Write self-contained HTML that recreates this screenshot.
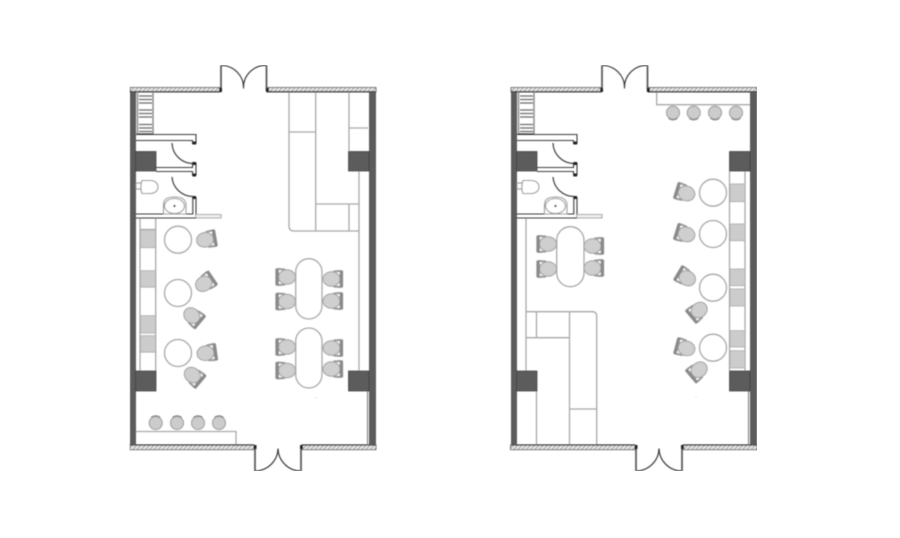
<!DOCTYPE html>
<html><head><meta charset="utf-8"><style>
html,body{margin:0;padding:0;background:#fff;width:900px;height:538px;overflow:hidden}
svg{display:block}
</style></head><body>
<svg width="900" height="538" viewBox="0 0 900 538" xmlns="http://www.w3.org/2000/svg">
<defs>
<pattern id="h" width="3" height="3" patternUnits="userSpaceOnUse" patternTransform="rotate(45)">
<rect width="3" height="3" fill="#eee"/><rect width="1.2" height="3" fill="#aaa"/>
</pattern>
<filter id="b" x="0" y="0" width="100%" height="100%"><feGaussianBlur stdDeviation="0.4"/></filter>
<g id="chair">
<path d="M1-7.500L7-8M1 7.500L7 8" fill="none" stroke="#9a9a9a" stroke-width="2" stroke-linecap="round"/>
<path d="M6.500-4.500L6.500 4.500" fill="none" stroke="#aaa" stroke-width="2"/>
<ellipse cx="-1.500" cy="0" rx="8.500" ry="7.300" fill="#cfcfcf" stroke="#a2a2a2" stroke-width="1"/>
<rect x="6.800" y="-8.800" width="3.300" height="17.600" rx="1.500" fill="#8a8a8a"/>
</g>
<g id="stoolT"><circle r="6.500" fill="#ccc" stroke="#a0a0a0" stroke-width="1.100"/><path d="M-4.500-5.500A7 7 0 0 1 4.500-5.500" fill="none" stroke="#888" stroke-width="1.200"/></g>
<g id="stoolB"><circle r="6.500" fill="#ccc" stroke="#a0a0a0" stroke-width="1.100"/><path d="M-4.500 5.500A7 7 0 0 0 4.500 5.500" fill="none" stroke="#888" stroke-width="1.200"/></g>
<g id="shell">
<!-- walls -->
<rect x="130" y="87.500" width="90" height="4.500" fill="url(#h)" stroke="#666" stroke-width=".9"/>
<rect x="267" y="87.500" width="109" height="4.500" fill="url(#h)" stroke="#666" stroke-width=".9"/>
<line x1="130" y1="91.700" x2="220" y2="91.700" stroke="#222" stroke-width="1.200"/>
<line x1="267" y1="91.700" x2="376" y2="91.700" stroke="#222" stroke-width="1.200"/>
<rect x="129.500" y="445" width="124.500" height="4.700" fill="url(#h)" stroke="#666" stroke-width=".9"/>
<rect x="302" y="445" width="74" height="4.700" fill="url(#h)" stroke="#666" stroke-width=".9"/>
<line x1="130" y1="445" x2="254" y2="445" stroke="#222" stroke-width="1.200"/>
<line x1="302" y1="445" x2="376" y2="445" stroke="#222" stroke-width="1.200"/>
<rect x="130" y="92" width="6" height="353" fill="#5c5c5c"/>
<rect x="369" y="92" width="7" height="353" fill="#5c5c5c"/>
<line x1="367.500" y1="391" x2="367.500" y2="445" stroke="#777" stroke-width="1"/>
<!-- doors -->
<g fill="none" stroke="#333" stroke-width="1.100">
<path d="M221 65.500A22 22 0 0 1 243.500 88.500A22 22 0 0 1 266.500 65.500"/>
<path d="M255 471A23 23 0 0 0 278 448.500A23 23 0 0 0 301 471"/>
</g>
<g fill="none" stroke="#555" stroke-width="1.700">
<path d="M221 91V65.500M266.500 91V65.500M255 446V471M301 446V471"/>
</g>
<g fill="#222">
<rect x="219" y="88" width="3" height="4"/><rect x="266" y="88" width="3" height="4"/>
<rect x="253.500" y="445" width="3" height="4"/><rect x="300" y="445" width="3" height="4"/>
</g>
<!-- shelf -->
<g fill="none" stroke="#8f8f8f">
<path d="M137.500 92V134M153 92V134" stroke-width="1.500"/>
<path d="M139 96H152M139 99.500H152M139 103H152M139 110H152M139 113.500H152M139 117H152M139 124.500H152M139 128H152M139 131.500H152" stroke="#6a6a6a" stroke-width="1.200"/>
</g>
<line x1="137" y1="134" x2="153" y2="134" stroke="#222" stroke-width="1.200"/>
<!-- restroom walls -->
<g fill="none" stroke="#3c3c3c" stroke-width="1.100">
<path d="M136 134.500H196V143.500H192.500V140.500H136"/>
<path d="M156 167.500H192.500V163H196V175H192.500V171.500H156"/>
<path d="M196 197V218H136M192.800 197V214H136"/>
</g>
<g fill="#222"><rect x="192.500" y="141.500" width="3.500" height="3"/><rect x="192.500" y="162" width="3.500" height="3"/><rect x="192.500" y="173.500" width="3.500" height="3"/><rect x="192.500" y="196" width="3.500" height="3"/></g>
<path d="M196 214.500H221V218H196" fill="#eee" stroke="#aaa" stroke-width="1.100"/>
<g fill="none" stroke="#3c3c3c" stroke-width="1.200">
<path d="M172 143A21 21 0 0 0 192.500 163.500"/>
<path d="M172 177A21 21 0 0 0 192.500 196.500"/>
</g>
<!-- toilet -->
<g fill="#fff" stroke="#999" stroke-width="1.100">
<rect x="136" y="183" width="5" height="6"/>
<path d="M142 180.500H150C155 180.500 158 183.500 158 187C158 190.500 155 193.500 150 193.500H142C140.500 190 140.500 184 142 180.500Z"/>
</g>
<!-- sink -->
<g fill="#fff" stroke="#999" stroke-width="1.100">
<path d="M163.500 214V204Q164 197 174.500 197Q185 197 186 204V214Z"/>
<ellipse cx="174.500" cy="206" rx="10" ry="7.500"/>
</g>
<circle cx="174.500" cy="206" r="1.200" fill="#555"/>
<!-- columns -->
<g fill="#5c5c5c" stroke="#3a3a3a" stroke-width=".7">
<rect x="135.500" y="151.500" width="20.500" height="19.500"/>
<rect x="135.500" y="371" width="20.500" height="20"/>
<rect x="348.500" y="151.500" width="20.500" height="19.500"/>
<rect x="348.500" y="371" width="20.500" height="20"/>
</g>
</g>
</defs>
<rect width="900" height="538" fill="#fff"/>
<g filter="url(#b)">
<!-- LEFT PLAN furniture -->
<g fill="none" stroke="#a8a8a8" stroke-width="1.300">
<path d="M289 92V226Q289 231 294 231H359M315.700 92V231M289 132H315.700M349 92V151M349 128H368M316 204H359M349 204V231M359 171V371"/>
<path d="M140 218V371M155.700 218V371M140 218H155.700M140 229.500H155.700"/>
<path d="M136 431.500H236V445"/>
<rect x="295.700" y="258.700" width="26.300" height="60.300" rx="13.150"/>
<rect x="295.700" y="328" width="26.300" height="60" rx="13.150"/>
<circle cx="178" cy="239.700" r="13.500"/>
<circle cx="178" cy="293" r="13.500"/>
<circle cx="178" cy="353" r="13.500"/>
</g>
<g fill="#ccc" stroke="#aaa" stroke-width=".8">
<rect x="140.500" y="230" width="15" height="17.700"/>
<rect x="140.500" y="270.700" width="15" height="16.500"/>
<rect x="140.500" y="315.700" width="15" height="17.300"/>
<rect x="140.500" y="335.700" width="15" height="16.500"/>
</g>
<use href="#shell"/>
<use href="#chair" transform="translate(206.500 239.500) rotate(-10)"/>
<use href="#chair" transform="translate(205 283) rotate(-34)"/>
<use href="#chair" transform="translate(193 316.500) rotate(40)"/>
<use href="#chair" transform="translate(207 353) rotate(-8)"/>
<use href="#chair" transform="translate(193.500 376) rotate(40)"/>
<use href="#chair" transform="translate(285.500 277) rotate(180)"/>
<use href="#chair" transform="translate(285.500 301.500) rotate(180)"/>
<use href="#chair" transform="translate(333 279)"/>
<use href="#chair" transform="translate(333 301)"/>
<use href="#chair" transform="translate(285.500 347) rotate(180)"/>
<use href="#chair" transform="translate(285.500 370.500) rotate(180)"/>
<use href="#chair" transform="translate(333 348)"/>
<use href="#chair" transform="translate(333 369)"/>
<use href="#stoolT" x="155.700" y="423"/>
<use href="#stoolT" x="177" y="423"/>
<use href="#stoolT" x="198" y="423"/>
<use href="#stoolT" x="219" y="423"/>
<!-- RIGHT PLAN furniture -->
<g fill="none" stroke="#a8a8a8" stroke-width="1.300">
<path d="M526 218V371M526 311.700H592Q596.700 311.700 596.700 316V445M536.500 311.700V338M536.500 391V445M526 337.700H569.500M569.500 311.700V445M569.500 409H596.700"/>
<path d="M656.700 92V104.700H750"/>
<path d="M729.500 171V371M745 171V371"/>
<rect x="556.700" y="226.700" width="27.300" height="60" rx="13.650"/>
<circle cx="713" cy="192.700" r="13.500"/>
<circle cx="713" cy="234" r="13.500"/>
<circle cx="713" cy="287.700" r="13.500"/>
<circle cx="713" cy="347.700" r="13.500"/>
</g>
<g fill="#ccc" stroke="#aaa" stroke-width=".8">
<rect x="730" y="184" width="15" height="17.700"/>
<rect x="730" y="224" width="15" height="16.700"/>
<rect x="730" y="269" width="15" height="16.700"/>
<rect x="730" y="289" width="15" height="17"/>
<rect x="730" y="330.700" width="15" height="16.300"/>
<rect x="730" y="350.700" width="15" height="17.300"/>
</g>
<use href="#shell" x="381"/>
<use href="#chair" transform="translate(685 193) rotate(197)"/>
<use href="#chair" transform="translate(685 234) rotate(197)"/>
<use href="#chair" transform="translate(686 277.500) rotate(211)"/>
<use href="#chair" transform="translate(698 311) rotate(140)"/>
<use href="#chair" transform="translate(685 348) rotate(195)"/>
<use href="#chair" transform="translate(698 370.700) rotate(140)"/>
<use href="#chair" transform="translate(546.500 244) rotate(180)"/>
<use href="#chair" transform="translate(546.500 269) rotate(180)"/>
<use href="#chair" transform="translate(594 246)"/>
<use href="#chair" transform="translate(594 268)"/>
<use href="#stoolB" x="673" y="112.700"/>
<use href="#stoolB" x="693.700" y="112.700"/>
<use href="#stoolB" x="715" y="112.700"/>
<use href="#stoolB" x="736" y="112.700"/>
<circle cx="316" cy="398" r=".5" fill="#bbb"/>
<circle cx="696" cy="397" r=".5" fill="#bbb"/>
</g>
</svg>
</body></html>
